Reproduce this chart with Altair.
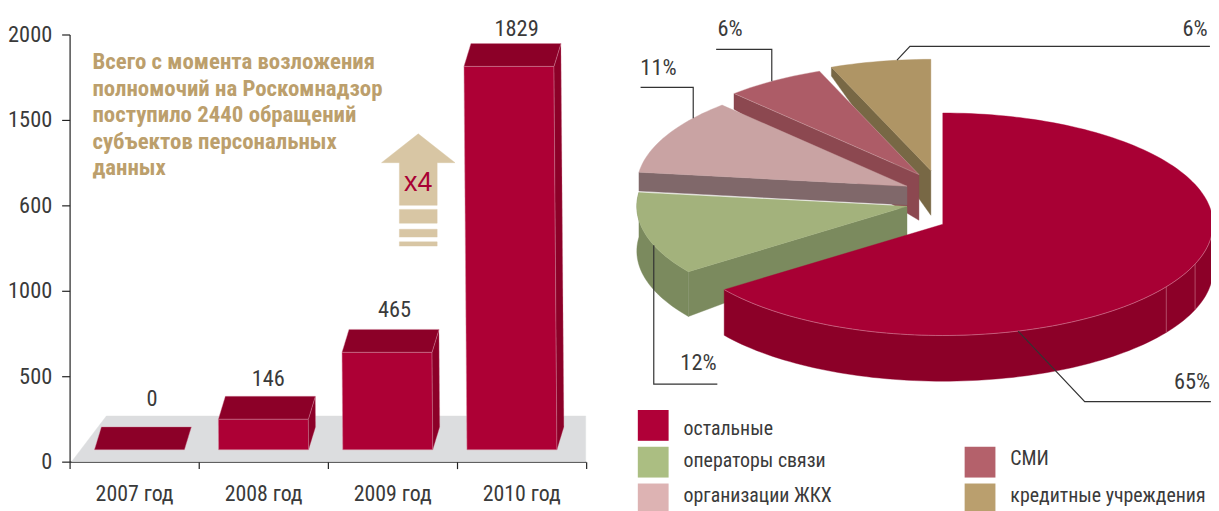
import math
import altair as alt
import pandas as pd

# ---- data ----
YEARS = ["2007 год", "2008 год", "2009 год", "2010 год"]
COUNTS = [0, 146, 465, 1829]
Y_LABELS = ["0", "500", "1000", "600", "1500", "2000"]
NOTE = ["Всего с момента возложения", "полномочий на Роскомнадзор", "поступило 2440 обращений",
        "субъектов персональных", "данных"]
CATS = ["остальные", "операторы связи", "организации ЖКХ", "СМИ", "кредитные учреждения"]
SHARES = [65, 12, 11, 6, 6]
LEG_COL = [0, 0, 0, 1, 1]
LEG_ROW = [0, 1, 2, 1, 2]
LEG_TXT_ROW = [0.1, -0.04, -0.07, -0.09, -0.07]
TOP = ["#A80034", "#A3B27C", "#C9A3A3", "#AD5C67", "#AF9565"]
SIDE = ["#8C0028", "#7B8A5E", "#80686A", "#8C4850", "#786845"]
SWATCH = ["#B00038", "#ABBE82", "#DDB3B3", "#B4616B", "#BA9F6E"]
# ---- styles / layout ----
FONT = "Roboto Condensed"
INK = "#3a3a3a"
W, H = 520, 455
BX = alt.Scale(domain=[0, 4], range=[25, 525], zero=False, nice=False)
BY = alt.Scale(domain=[0, 2000], range=[443, 21], zero=False, nice=False)
PX = alt.Scale(domain=[-1, 1], range=[607, 1151], zero=False, nice=False)
PY = alt.Scale(domain=[-1, 1], range=[328, 104], zero=False, nice=False)
AX = alt.Scale(domain=[-1, 1], range=[314, 388], zero=False, nice=False)
AY = alt.Scale(domain=[0, 1], range=[238, 125], zero=False, nice=False)
LX = alt.Scale(domain=[0, 1], range=[587.5, 916.5], zero=False, nice=False)
LY = alt.Scale(domain=[0, 2], range=[418.5, 492.5], zero=False, nice=False)
TX = alt.Scale(domain=[0, 1], range=[618, 947], zero=False, nice=False)

layers = []


def poly(points, color, sx, sy, stroke=None, sw=0.4):
    df = pd.DataFrame({"px": [p[0] for p in points], "py": [p[1] for p in points], "k": range(len(points))})
    layers.append(
        alt.Chart(df).mark_line(interpolate="linear-closed", fill=color, stroke=stroke or color, strokeWidth=sw).encode(
            x=alt.X("px:Q", scale=sx, axis=None),
            y=alt.Y("py:Q", scale=sy, axis=None),
            order=alt.Order("k:Q"),
        )
    )


def path(points, color, sx, sy, sw=1.2):
    df = pd.DataFrame({"px": [p[0] for p in points], "py": [p[1] for p in points], "k": range(len(points))})
    layers.append(
        alt.Chart(df).mark_line(stroke=color, strokeWidth=sw, interpolate="linear").encode(
            x=alt.X("px:Q", scale=sx, axis=None),
            y=alt.Y("py:Q", scale=sy, axis=None),
            order=alt.Order("k:Q"),
        )
    )


def label(text, x, y, sx, sy, size=22.5, color=INK, align="center", weight="normal", font=FONT):
    df = pd.DataFrame({"px": [x], "py": [y], "t": [text]})
    layers.append(
        alt.Chart(df).mark_text(font=font, fontSize=size, color=color, align=align, baseline="alphabetic", fontWeight=weight).encode(
            x=alt.X("px:Q", scale=sx, axis=None),
            y=alt.Y("py:Q", scale=sy, axis=None),
            text="t:N",
        )
    )


# ---- axes ----
layers.append(
    alt.Chart(pd.DataFrame({"c": YEARS})).mark_point(opacity=0).encode(
        x=alt.X("c:N", sort=None, title=None,
                scale=alt.Scale(type="band", domain=YEARS, range=[0, 519.5], paddingInner=0, paddingOuter=0),
                axis=alt.Axis(orient="bottom", tickBand="extent", grid=False, labelAngle=0, tickSize=7, tickColor="#222",
                              domainColor="#222", labelFont=FONT, labelFontSize=22, labelColor=INK, labelPadding=15, tickWidth=1.2,
                              domainWidth=1.2))
    )
)
layers.append(
    alt.Chart(pd.DataFrame({"c": Y_LABELS})).mark_point(opacity=0).encode(
        y=alt.Y("c:N", sort=None, title=None,
                scale=alt.Scale(type="point", domain=Y_LABELS, range=[455, 25], padding=0),
                axis=alt.Axis(orient="left", grid=False, tickSize=8, tickColor="#222", domainColor="#222", labelFont=FONT,
                              labelFontSize=22.5, labelColor=INK, labelPadding=10, tickWidth=1.2, domainWidth=1.2))
    )
)

# ---- bars ----
U = 2000 / 422  # value units per pixel
BW, DX, DY = 0.725, 0.056, 23 * U
LEAN = 0.0078 / 125 / U
poly([(-0.184, -12 * U), (0.096, 34 * U), (3.956, 34 * U), (3.956, -12 * U)], "#DCDDDF", BX, BY)
BAR_FRONT, BAR_DARK, EDGE = "#AD0035", "#8C0028", "#D78AA0"
for i, v in enumerate(COUNTS):
    l = i * 1.0
    lean = LEAN * v
    if v > 0:
        poly([(l, 0), (l + BW, 0), (l + BW - lean, v), (l - lean, v)], BAR_FRONT, BX, BY, EDGE, 0.5)
        poly([(l + BW, 0), (l + BW - lean, v), (l + BW - lean + DX, v + DY), (l + BW + DX, DY)], BAR_DARK, BX, BY, EDGE, 0.3)
    poly([(l - lean, v), (l + BW - lean, v), (l + BW - lean + DX, v + DY), (l - lean + DX, v + DY)], BAR_DARK, BX, BY, EDGE, 0.4)
for v, gap, lx in zip(COUNTS, [21, 10, 12, 8], [0.464, 1.4, 2.416, 3.4]):
    label(str(v), lx, v + DY + gap * U, BX, BY)

# ---- note and arrow ----
for j, line in enumerate(NOTE):
    layers.append(
        alt.Chart(pd.DataFrame({"t": [line]})).mark_text(font=FONT, fontSize=23, fontWeight="bold", color="#BC9F6C", align="left",
                                                         baseline="alphabetic").encode(
            x=alt.value(23), y=alt.value(60 + j * 26.7), text="t:N")
    )
ARROW = "#D8C6A4"
S = 0.514
poly([(0, 1), (1, 0.743), (S, 0.743), (S, 0.363), (-S, 0.363), (-S, 0.743), (-1, 0.743)], ARROW, AX, AY)
for a, b in [(0.204, 0.327), (0.08, 0.15), (0, 0.038)]:
    poly([(-S, a), (S, a), (S, b), (-S, b)], ARROW, AX, AY)
label("x4", 0, 0.49, AX, AY, size=27, color="#A80034", font="Liberation Sans")

# ---- pie ----
RYPX, RXPX = 112, 272
edges = [0]
for s in SHARES:
    edges.append(edges[-1] + s * 3.6)


def rim(t, ox=0.0, oy=0.0, drop=0.0):
    r = math.radians(t)
    return (ox + math.sin(r), oy + math.cos(r) - drop)


def arc(i, ox, oy, a=None, b=None, drop=0.0):
    a = edges[i] if a is None else a
    b = edges[i + 1] if b is None else b
    n = max(2, int(abs(b - a) / 1.5))
    return [rim(a + (b - a) * k / n, ox, oy, drop) for k in range(n + 1)]


def off(dx, dy):
    return dx / RXPX, -dy / RYPX


def quad(i, o, t, d_tip, d_apex):
    tip = rim(t, *o)
    return [tip, o, (o[0], o[1] - d_apex / RYPX), (tip[0], tip[1] - d_tip / RYPX)]


O = [off(0, 0), off(-36, -18), off(-36, -38.3), off(-24, -50), off(-12, -54)]
# tan
poly(quad(4, O[4], edges[4], 9, 45), SIDE[4], PX, PY)
poly([O[4]] + arc(4, *O[4]), TOP[4], PX, PY)
# mauve
poly(quad(3, O[3], edges[3], 16, 46), SIDE[3], PX, PY)
poly([O[3]] + arc(3, *O[3]), TOP[3], PX, PY, "#D8B4B8", 0.4)
# pink
poly(quad(2, O[2], edges[2], 19, 19), SIDE[2], PX, PY)
poly([O[2]] + arc(2, *O[2]), TOP[2], PX, PY)
# green
d = 45 / RYPX
poly(arc(1, *O[1]) + arc(1, *O[1], drop=d)[::-1], SIDE[1], PX, PY)
poly(quad(1, O[1], edges[1], 45, 29), SIDE[1], PX, PY)
poly([O[1]] + arc(1, *O[1]), TOP[1], PX, PY)
# main
d = 46 / RYPX
poly(arc(0, *O[0], a=90, b=edges[1]) + arc(0, *O[0], a=90, b=edges[1], drop=d)[::-1], SIDE[0], PX, PY)
poly([O[0]] + arc(0, *O[0]), TOP[0], PX, PY)
path(arc(0, *O[0], a=90, b=edges[1]), "#D78AA0", PX, PY, 0.6)
for xs in (225 / RXPX, 254 / RXPX):
    t = 180 - math.degrees(math.asin(xs))
    path([rim(t), rim(t, drop=d)], "#C46A84", PX, PY, 0.7)

# ---- leader lines and percent labels ----
LINE = "#333333"
def rel(p, dx, dy):
    return (p[0] + dx / RXPX, p[1] - dy / RYPX)

def leader(i, t, steps, text, tdx, tdy):
    pts = [rim(t, *O[i])]
    for dx, dy in steps:
        pts.append(rel(pts[-1], dx, dy))
    path(pts, LINE, PX, PY, 1.2)
    lp = rel(pts[-1], tdx, tdy)
    label(text, lp[0], lp[1], PX, PY)

leader(0, 163.8, [(67, 71), (127, 0)], "65%", -19, -13)
leader(1, 249.6, [(0, 140), (64, 0)], "12%", -19, -14)
leader(2, 307.7, [(0, -31), (-53, 0)], "11%", 18, -12.5)
leader(3, 327, [(0, -32), (-56, 0)], "6%", 14, -13.5)
leader(4, 352.8, [(13, -14), (302, 0)], "6%", -15, -10)

# ---- legend ----
leg = pd.DataFrame({"c": LEG_COL, "r": LEG_ROW, "n": CATS, "tr": LEG_TXT_ROW})
layers.append(
    alt.Chart(leg).mark_square(size=961, opacity=1).encode(
        x=alt.X("c:Q", scale=LX, axis=None),
        y=alt.Y("r:Q", scale=LY, axis=None),
        color=alt.Color("n:N", scale=alt.Scale(domain=CATS, range=SWATCH), legend=None),
    )
)
layers.append(
    alt.Chart(leg).mark_text(font=FONT, fontSize=20, color=INK, align="left", baseline="middle").encode(
        x=alt.X("c:Q", scale=TX, axis=None),
        y=alt.Y("tr2:Q", scale=LY, axis=None),
        text="n:N",
    ).transform_calculate(tr2="datum.r + datum.tr")
)

chart = (
    alt.layer(*layers)
    .resolve_scale(x="independent", y="independent", color="independent")
    .properties(width=W, height=H, padding={"left": 62, "top": 0, "right": 629, "bottom": 48},
                autosize=alt.AutoSizeParams(type="none"), background="white")
    .configure_view(stroke=None)
)
chart.save("out.html", embed_options={"renderer": "svg", "actions": False})
